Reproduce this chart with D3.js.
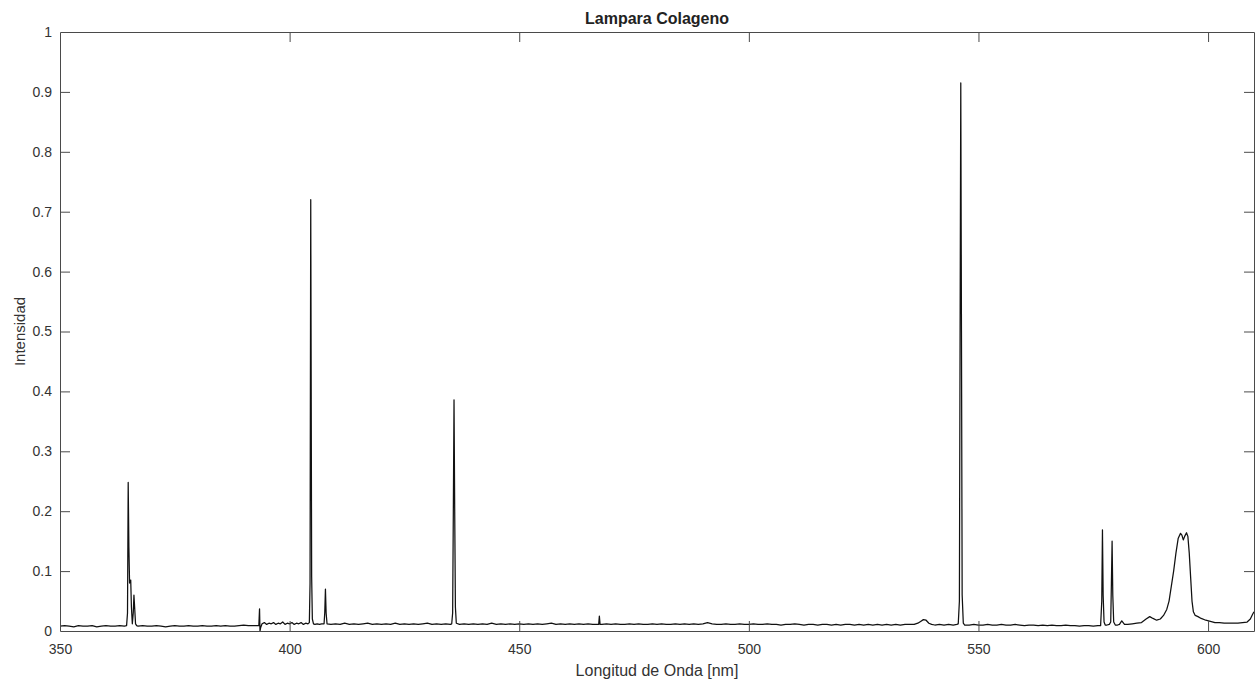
<!DOCTYPE html>
<html>
<head>
<meta charset="utf-8">
<script src="https://cdn.jsdelivr.net/npm/d3@7"></script>
<style>
  html, body { margin: 0; padding: 0; background: #fff; }
  svg { display: block; }
  text { font-family: "Liberation Sans", Arial, Helvetica, sans-serif; }
</style>
</head>
<body>
<svg id="chart" width="1258" height="684"></svg>
<script>
// ---- data ----
const chartTitle = "Lampara Colageno";
const xLabel = "Longitud de Onda [nm]";
const yLabel = "Intensidad";
const xDomain = [350, 610];
const yDomain = [0, 1];
const xTickValues = [350, 400, 450, 500, 550, 600];
const yTickValues = [0, 0.1, 0.2, 0.3, 0.4, 0.5, 0.6, 0.7, 0.8, 0.9, 1];

// spectrum: [wavelength nm, intensity]
const baselineA = [
  [350,0.008],[351,0.009],[352,0.008],[353,0.007],[354,0.009],[355,0.008],[356,0.008],[357,0.009],
  [358,0.007],[359,0.008],[360,0.009],[361,0.008],[362,0.008],[363,0.009],[364,0.008],[364.5,0.009]
];
const peak365 = [
  [364.7,0.03],[364.85,0.248],[365.0,0.14],[365.15,0.08],[365.4,0.085],[365.55,0.04],[365.75,0.012],
  [365.95,0.03],[366.1,0.06],[366.25,0.04],[366.45,0.012],[366.7,0.009]
];
const baselineB = [
  [367,0.008],[368,0.009],[369,0.008],[370,0.008],[371,0.009],[372,0.008],[373,0.007],[374,0.008],
  [375,0.009],[376,0.008],[377,0.008],[378,0.009],[379,0.008],[380,0.008],[381,0.009],[382,0.008],
  [383,0.008],[384,0.009],[385,0.008],[386,0.009],[387,0.008],[388,0.008],[389,0.009],[390,0.010],
  [391,0.009],[392,0.009],[393,0.009],[393.3,0.009]
];
const spike393 = [
  [393.45,0.037],[393.55,0.0],[393.7,0.006],[394,0.012]
];
const baselineC = [
  [394.5,0.014],[395,0.011],[395.5,0.013],[396,0.012],[396.5,0.014],[397,0.011],[397.5,0.013],
  [398,0.012],[398.5,0.015],[399,0.011],[399.5,0.013],[400,0.012],[400.5,0.014],[401,0.011],
  [401.5,0.013],[402,0.012],[402.5,0.014],[403,0.011],[403.5,0.013],[404,0.012],[404.3,0.014]
];
const peak404 = [
  [404.45,0.08],[404.6,0.72],[404.8,0.09],[404.95,0.02],[405.2,0.012],[405.5,0.011],[406,0.012],
  [406.5,0.011],[407,0.012],[407.5,0.012],[407.65,0.03],[407.8,0.07],[407.95,0.03],[408.15,0.012]
];
const baselineD = [
  [409,0.011],[410,0.012],[411,0.011],[412,0.013],[413,0.011],[414,0.012],[415,0.011],[416,0.012],
  [417,0.013],[418,0.011],[419,0.012],[420,0.011],[421,0.012],[422,0.011],[423,0.013],[424,0.011],
  [425,0.012],[426,0.011],[427,0.012],[428,0.011],[429,0.012],[430,0.013],[431,0.011],[432,0.012],
  [433,0.011],[434,0.012],[435,0.011],[435.3,0.012]
];
const peak436 = [
  [435.5,0.03],[435.65,0.2],[435.8,0.386],[435.95,0.2],[436.1,0.04],[436.3,0.013]
];
const baselineE = [
  [437,0.011],[438,0.012],[439,0.011],[440,0.012],[441,0.011],[442,0.012],[443,0.011],[444,0.013],
  [445,0.011],[446,0.012],[447,0.011],[448,0.012],[449,0.011],[450,0.012],[451,0.011],[452,0.012],
  [453,0.011],[454,0.012],[455,0.011],[456,0.012],[457,0.013],[458,0.011],[459,0.012],[460,0.011],
  [461,0.012],[462,0.011],[463,0.012],[464,0.011],[465,0.012],[466,0.011],[467,0.011],[467.3,0.011]
];
const spike467 = [
  [467.45,0.025],[467.6,0.011]
];
const baselineF = [
  [468,0.011],[469,0.012],[470,0.011],[471,0.012],[472,0.011],[473,0.011],[474,0.012],[475,0.011],
  [476,0.012],[477,0.011],[478,0.011],[479,0.012],[480,0.011],[481,0.012],[482,0.011],[483,0.011],
  [484,0.012],[485,0.011],[486,0.012],[487,0.011],[488,0.012],[489,0.011],[490,0.012],[491,0.014],
  [492,0.012],[493,0.011],[494,0.011],[495,0.012],[496,0.011],[497,0.011],[498,0.012],[499,0.011],
  [500,0.011],[501,0.012],[502,0.011],[503,0.011],[504,0.012],[505,0.011],[506,0.011],[507,0.010],
  [508,0.011],[509,0.011],[510,0.012],[511,0.011],[512,0.010],[513,0.011],[514,0.011],[515,0.010],
  [516,0.011],[517,0.011],[518,0.010],[519,0.011],[520,0.010],[521,0.011],[522,0.011],[523,0.010],
  [524,0.011],[525,0.010],[526,0.011],[527,0.010],[528,0.011],[529,0.010],[530,0.011],[531,0.010],
  [532,0.011],[533,0.010],[534,0.011],[535,0.011],[536,0.011]
];
const bump538 = [
  [536.8,0.013],[537.4,0.016],[538,0.019],[538.6,0.018],[539.2,0.013],[539.8,0.011],[540.5,0.010],
  [541.5,0.011],[542.5,0.010],[543.5,0.011],[544.5,0.010],[545.3,0.011],[545.6,0.012]
];
const peak546 = [
  [545.85,0.05],[546.0,0.5],[546.15,0.915],[546.3,0.5],[546.45,0.06],[546.7,0.013],[547,0.010]
];
const baselineG = [
  [548,0.010],[549,0.011],[550,0.010],[551,0.010],[552,0.011],[553,0.010],[554,0.010],[555,0.011],
  [556,0.010],[557,0.010],[558,0.011],[559,0.010],[560,0.009],[561,0.010],[562,0.010],[563,0.009],
  [564,0.010],[565,0.009],[566,0.010],[567,0.009],[568,0.009],[569,0.010],[570,0.009],[571,0.009],
  [572,0.008],[573,0.009],[574,0.009],[575,0.008],[576,0.009],[576.6,0.009]
];
const peaks577 = [
  [576.85,0.05],[577.0,0.169],[577.15,0.06],[577.35,0.015],[577.6,0.010],[578.0,0.010],[578.5,0.011],
  [578.8,0.015],[578.95,0.08],[579.1,0.15],[579.25,0.06],[579.45,0.015],[579.8,0.010],[580.3,0.010]
];
const band594 = [
  [580.7,0.011],[581.2,0.017],[581.8,0.011],[582.5,0.011],[583.5,0.012],[584.5,0.013],[585.5,0.014],
  [586.5,0.020],[587.3,0.024],[588.0,0.021],[588.8,0.018],[589.6,0.020],[590.3,0.026],[591.0,0.036],
  [591.5,0.050],[592.0,0.075],[592.5,0.100],[593.0,0.130],[593.5,0.155],[594.0,0.163],[594.3,0.160],
  [594.6,0.152],[594.9,0.158],[595.3,0.164],[595.6,0.158],[595.9,0.130],[596.2,0.090],[596.5,0.050],
  [596.8,0.032],[597.2,0.026],[597.8,0.024],[598.5,0.021],[599.5,0.018],[600.5,0.016],[601.5,0.014],
  [602.5,0.014],[603.5,0.013],[604.5,0.013],[605.5,0.013],[606.5,0.013],[607.5,0.014],[608.5,0.015],
  [609.2,0.020],[609.7,0.028],[610,0.032]
];

const spectrum = [].concat(
  baselineA, peak365, baselineB, spike393, baselineC, peak404, baselineD, peak436,
  baselineE, spike467, baselineF, bump538, peak546, baselineG, peaks577, band594
);

// ---- layout ----
const W = 1258, H = 684;
const m = { left: 60, right: 4, top: 32, bottom: 53 };
const x0 = m.left, x1 = W - m.right, y0 = H - m.bottom, y1 = m.top;

const svg = d3.select("#chart");
const x = d3.scaleLinear().domain(xDomain).range([x0, x1]);
const y = d3.scaleLinear().domain(yDomain).range([y0, y1]);

const axisColor = "#4a4a4a";
const textColor = "#333";
const tickLen = 10;

svg.append("clipPath").attr("id", "clip")
  .append("rect").attr("x", x0).attr("y", y1).attr("width", x1 - x0).attr("height", y0 - y1);

const line = d3.line().x(d => x(d[0])).y(d => y(d[1]));
svg.append("path")
  .datum(spectrum)
  .attr("clip-path", "url(#clip)")
  .attr("fill", "none")
  .attr("stroke", "#111")
  .attr("stroke-width", 1.25)
  .attr("stroke-linejoin", "round")
  .attr("d", line);

function styleAxis(g) {
  g.selectAll("path.domain").attr("stroke", axisColor).attr("stroke-width", 1);
  g.selectAll(".tick line").attr("stroke", axisColor).attr("stroke-width", 1);
  g.selectAll(".tick text").attr("fill", textColor).style("font-size", "14px")
    .style("font-family", '"Liberation Sans", Arial, sans-serif');
}

const fmtY = d => (d === 0 ? "0" : d === 1 ? "1" : d3.format(".1f")(d));

const xAxisB = svg.append("g").attr("transform", `translate(0,${y0})`)
  .call(d3.axisBottom(x).tickValues(xTickValues).tickSize(-tickLen).tickPadding(13).tickSizeOuter(0));
styleAxis(xAxisB);

const xAxisT = svg.append("g").attr("transform", `translate(0,${y1})`)
  .call(d3.axisTop(x).tickValues(xTickValues).tickSize(-tickLen).tickFormat("").tickSizeOuter(0));
styleAxis(xAxisT);

const yAxisL = svg.append("g").attr("transform", `translate(${x0},0)`)
  .call(d3.axisLeft(y).tickValues(yTickValues).tickSize(-tickLen).tickPadding(8).tickFormat(fmtY).tickSizeOuter(0));
styleAxis(yAxisL);

const yAxisR = svg.append("g").attr("transform", `translate(${x1},0)`)
  .call(d3.axisRight(y).tickValues(yTickValues).tickSize(-tickLen).tickFormat("").tickSizeOuter(0));
styleAxis(yAxisR);

[xAxisB, xAxisT].forEach(g => g.selectAll(".tick").filter(d => d === xDomain[0]).select("line").remove());
[yAxisL, yAxisR].forEach(g => g.selectAll(".tick").filter(d => d === yDomain[0] || d === yDomain[1]).select("line").remove());

svg.append("text")
  .attr("x", (x0 + x1) / 2).attr("y", 24)
  .attr("text-anchor", "middle")
  .attr("fill", "#222")
  .style("font-size", "16px").style("font-weight", "bold")
  .text(chartTitle);

svg.append("text")
  .attr("x", (x0 + x1) / 2).attr("y", 676)
  .attr("text-anchor", "middle")
  .attr("fill", textColor)
  .style("font-size", "16px")
  .text(xLabel);

svg.append("text")
  .attr("transform", `translate(25,${(y0 + y1) / 2}) rotate(-90)`)
  .attr("text-anchor", "middle")
  .attr("fill", textColor)
  .style("font-size", "15px")
  .text(yLabel);
</script>
</body>
</html>
